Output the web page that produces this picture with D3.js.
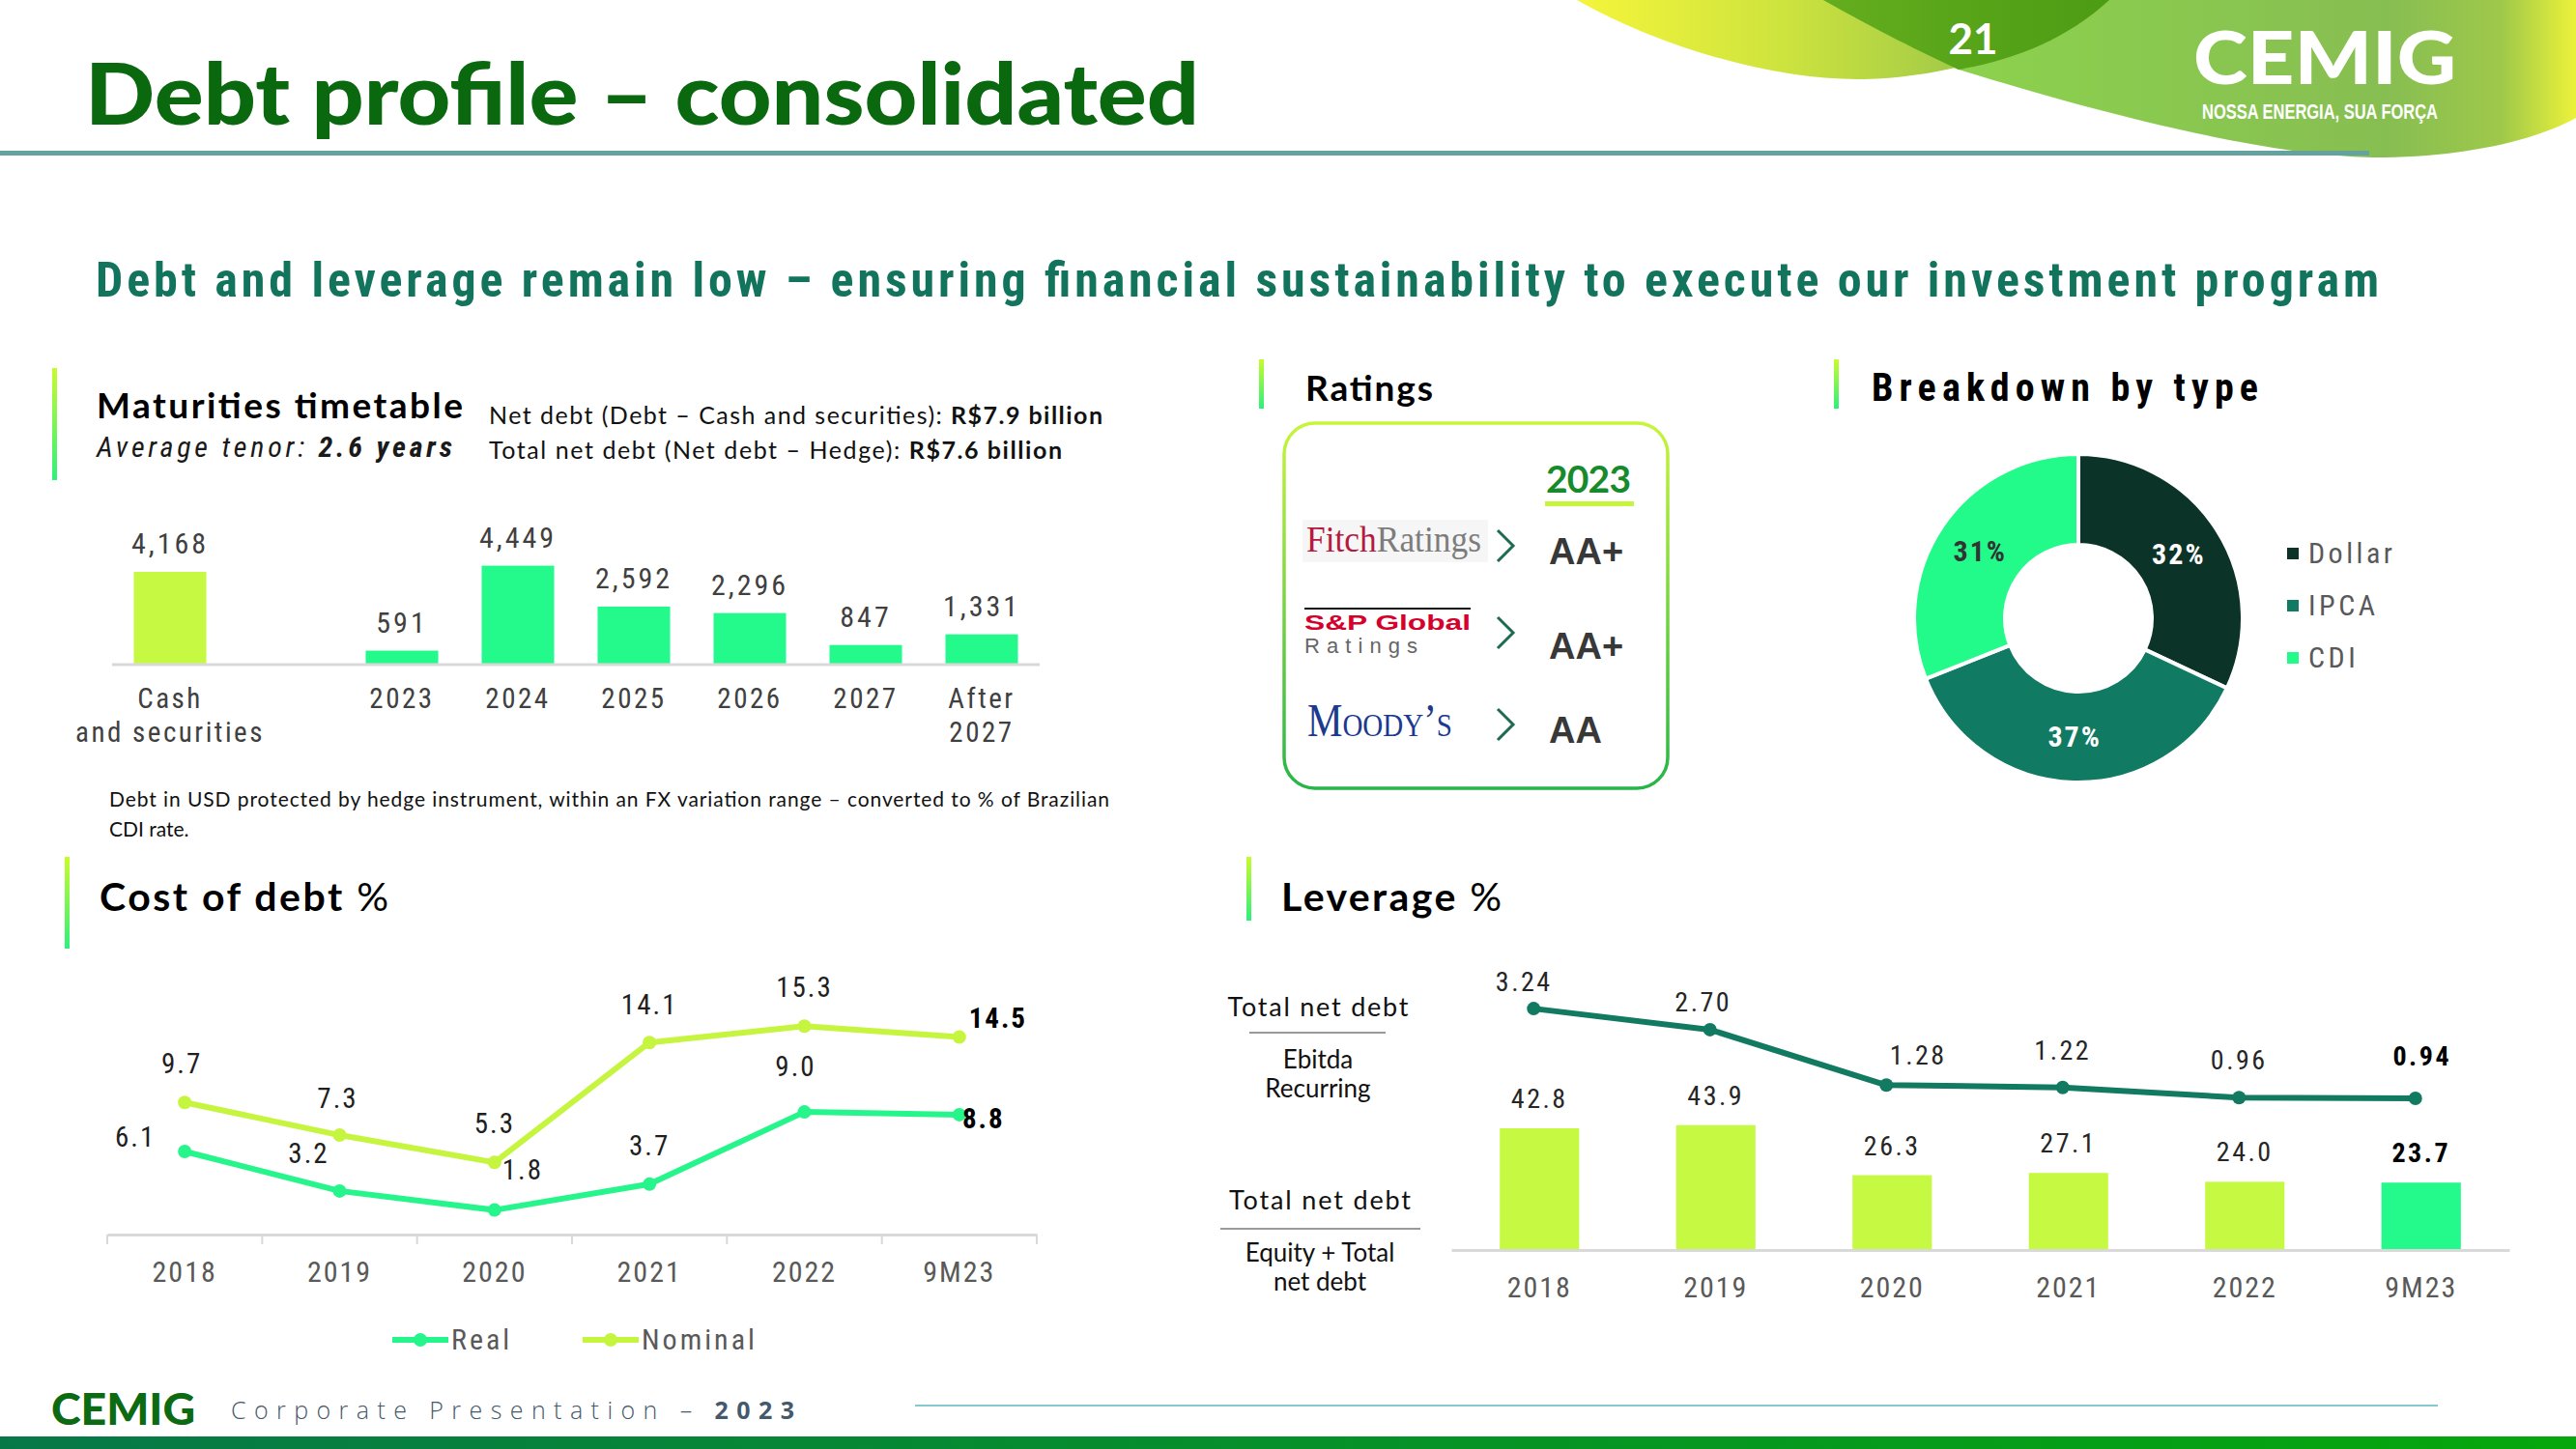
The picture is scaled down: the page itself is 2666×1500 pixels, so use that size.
<!DOCTYPE html>
<html><head><meta charset="utf-8">
<script src="https://cdn.jsdelivr.net/npm/d3@7/dist/d3.min.js"></script>
<style>html,body{margin:0;padding:0;background:#fff;} svg{display:block;}</style>
</head><body>
<script>
// ---------------- DATA ----------------
const maturityCategories = ["Cash and securities", "2023", "2024", "2025", "2026", "2027", "After 2027"];
const maturityLabelLines = [["Cash", "and securities"], ["2023"], ["2024"], ["2025"], ["2026"], ["2027"], ["After", "2027"]];
const maturityValues = [4168, 591, 4449, 2592, 2296, 847, 1331];
const maturityKinds = ["cash", "debt", "debt", "debt", "debt", "debt", "debt"];

const costYears = ["2018", "2019", "2020", "2021", "2022", "9M23"];
const costReal = [6.1, 3.2, 1.8, 3.7, 9.0, 8.8];
const costNominal = [9.7, 7.3, 5.3, 14.1, 15.3, 14.5];

const levYears = ["2018", "2019", "2020", "2021", "2022", "9M23"];
const levNetDebtEbitda = [3.24, 2.70, 1.28, 1.22, 0.96, 0.94];
const levNetDebtEquity = [42.8, 43.9, 26.3, 27.1, 24.0, 23.7];

const debtTypes = ["Dollar", "IPCA", "CDI"];
const debtShares = [32, 37, 31];

const ratingAgencies = ["Fitch Ratings", "S&P Global Ratings", "Moody's"];
const ratingGrades = ["AA+", "AA+", "AA"];
const ratingYear = "2023";

// ---------------- STYLE ----------------
const SANS = "Lato, 'Open Sans', sans-serif";
const NARROW = "'Liberation Sans Narrow', 'Arial Narrow', 'Roboto Condensed', 'Liberation Sans', sans-serif";
const SERIF = "'Liberation Serif', 'DejaVu Serif', serif";
const ARIAL = "'Liberation Sans', Arial, sans-serif";
const LIME = "#c6fa42", SPRING = "#24f98b";

const W = 2666, H = 1500;
const svg = d3.select("body").append("svg").attr("width", W).attr("height", H)
  .attr("viewBox", `0 0 ${W} ${H}`);
svg.append("rect").attr("width", W).attr("height", H).attr("fill", "#fff");
const defs = svg.append("defs");

function lin(id, x1, y1, x2, y2, stops, units) {
  const g = defs.append("linearGradient").attr("id", id)
    .attr("x1", x1).attr("y1", y1).attr("x2", x2).attr("y2", y2);
  if (units) g.attr("gradientUnits", "userSpaceOnUse");
  stops.forEach(s => g.append("stop").attr("offset", s[0]).attr("stop-color", s[1]));
}
lin("accent", 0, 0, 0, 1, [[0, "#c8fb2c"], [1, "#2ef07c"]]);
lin("yellowLens", 1632, 0, 2110, 0, [[0, "#f5f53a"], [0.45, "#cde33e"], [1, "#8fbf4c"]], true);
lin("limeShape", 1887, 0, 2666, 0, [[0, "#8ed84c"], [0.75, "#87be52"], [0.9, "#9ec84a"], [1, "#ecf23a"]], true);
lin("darkBubble", 1887, 0, 2183, 0, [[0, "#64ad1e"], [1, "#4c9c14"]], true);
lin("boxStroke", 0, 0, 0, 1, [[0, "#c8f53a"], [1, "#27b548"]]);
lin("footBand", 0, 0, 1, 0, [[0, "#067848"], [1, "#05a70c"]]);

function T(p, x, y, s, o = {}) {
  const t = p.append("text").attr("x", x).attr("y", y)
    .attr("font-family", o.ff || SANS).attr("font-size", o.fs || 28)
    .attr("fill", o.fill || "#000");
  if (s !== null) t.text(s);
  if (o.fw) t.attr("font-weight", o.fw);
  if (o.style) t.attr("font-style", o.style);
  if (o.anchor) t.attr("text-anchor", o.anchor);
  if (o.ls !== undefined) t.attr("letter-spacing", o.ls);
  if (o.len) t.attr("textLength", o.len).attr("lengthAdjust", o.adj || "spacing");
  return t;
}
function accentBar(x, y1, y2) {
  svg.append("rect").attr("x", x).attr("y", y1).attr("width", 5).attr("height", y2 - y1).attr("fill", "url(#accent)");
}

// ---------------- HEADER ----------------
svg.append("path").attr("d", "M1632,0 C1720,50 1840,84 1930,82 C2010,80 2110,55 2183,0 Z").attr("fill", "url(#yellowLens)");
svg.append("path").attr("d", "M1887,0 C1940,30 1990,55 2027,72 C2150,110 2330,160 2455,163 C2560,163 2630,142 2666,122 L2666,0 Z").attr("fill", "url(#limeShape)");
svg.append("path").attr("d", "M1887,0 C1940,30 1990,55 2027,72 C2085,62 2140,40 2183,0 Z").attr("fill", "url(#darkBubble)");
T(svg, 2042, 56, "21", { fs: 44, fw: 700, fill: "#fff", anchor: "middle", ff: SANS });
T(svg, 2270, 87, "CEMIG", { fs: 76, fw: 900, fill: "#fff", len: 272, adj: "spacingAndGlyphs" });
T(svg, 2279, 123, "NOSSA ENERGIA, SUA FORÇA", { fs: 22, fw: 700, fill: "#fff", ff: ARIAL, len: 244, adj: "spacingAndGlyphs" });

T(svg, 88, 129, "Debt profile – consolidated", { fs: 88, fw: 900, fill: "#0a680f", len: 1153, adj: "spacingAndGlyphs" });
svg.append("rect").attr("x", 0).attr("y", 156).attr("width", 2452).attr("height", 5).attr("fill", "#64a29f");

T(svg, 99, 307, "Debt and leverage remain low – ensuring financial sustainability to execute our investment program",
  { ff: NARROW, fs: 50, fw: 700, fill: "#13745e", len: 2363 });

// ---------------- MATURITIES ----------------
accentBar(54, 381, 497);
T(svg, 100, 433, "Maturities timetable", { fs: 37, fw: 700, len: 379 });
{
  const t = T(svg, 100, 473, null, { ff: NARROW, fs: 30, style: "italic", fill: "#1a1a1a", len: 368 });
  t.append("tspan").text("Average tenor: ");
  t.append("tspan").attr("font-weight", 700).text("2.6 years");
  const t1 = T(svg, 506, 439, null, { fs: 25, fill: "#111", len: 635 });
  t1.append("tspan").text("Net debt (Debt – Cash and securities): ");
  t1.append("tspan").attr("font-weight", 700).text("R$7.9 billion");
  const t2 = T(svg, 506, 475, null, { fs: 25, fill: "#111", len: 593 });
  t2.append("tspan").text("Total net debt (Net debt – Hedge): ");
  t2.append("tspan").attr("font-weight", 700).text("R$7.6 billion");
}
{
  const g = svg.append("g");
  const domain = [maturityCategories[0], " "].concat(maturityCategories.slice(1));
  const x = d3.scaleBand().domain(domain).range([116, 1076]).paddingInner(0.375).paddingOuter(0.1875);
  const y = d3.scaleLinear().domain([0, 4449]).range([687, 585.6]);
  g.selectAll("rect.bar").data(maturityValues).join("rect").attr("class", "bar")
    .attr("x", (d, i) => x(maturityCategories[i])).attr("width", x.bandwidth())
    .attr("y", d => y(d)).attr("height", d => y(0) - y(d))
    .attr("fill", (d, i) => maturityKinds[i] === "cash" ? LIME : SPRING);
  g.append("line").attr("x1", 116).attr("x2", 1076).attr("y1", 688).attr("y2", 688).attr("stroke", "#d9d9d9").attr("stroke-width", 3);
  g.selectAll("text.val").data(maturityValues).join("text").attr("class", "val")
    .attr("x", (d, i) => x(maturityCategories[i]) + x.bandwidth() / 2).attr("y", d => y(d) - 19)
    .attr("text-anchor", "middle").attr("font-family", NARROW).attr("font-size", 30).attr("letter-spacing", 3)
    .attr("fill", "#404040").text(d => d3.format(",")(d));
  maturityCategories.forEach((c, i) => {
    const t = T(g, x(c) + x.bandwidth() / 2, 733, null, { ff: NARROW, fs: 29, ls: 2.5, fill: "#404040", anchor: "middle" });
    maturityLabelLines[i].forEach((ln, j) => t.append("tspan").attr("x", x(c) + x.bandwidth() / 2).attr("dy", j ? 35 : 0).text(ln));
  });
}
T(svg, 113, 835, "Debt in USD protected by hedge instrument, within an FX variation range – converted to % of Brazilian", { fs: 21, fill: "#111", len: 1035 });
T(svg, 113, 866, "CDI rate.", { fs: 21, fill: "#111" });

// ---------------- RATINGS ----------------
accentBar(1303, 372, 423);
T(svg, 1351, 415, "Ratings", { fs: 37, fw: 700, len: 132 });
svg.append("rect").attr("x", 1329).attr("y", 438).attr("width", 397).attr("height", 378).attr("rx", 32)
  .attr("fill", "#fff").attr("stroke", "url(#boxStroke)").attr("stroke-width", 3.5);
T(svg, 1644, 510, ratingYear, { fs: 39, fw: 700, fill: "#178a2c", anchor: "middle", len: 88 });
svg.append("rect").attr("x", 1599).attr("y", 519).attr("width", 92).attr("height", 5).attr("fill", "#c6f53c");
{
  const gradeY = [584, 682, 769];
  const chevY = [565, 655, 750];
  // Fitch
  svg.append("rect").attr("x", 1348).attr("y", 538).attr("width", 192).attr("height", 44).attr("fill", "#f6f6f6");
  const f = T(svg, 1352, 571, null, { ff: SERIF, fs: 38, len: 181, adj: "spacingAndGlyphs" });
  f.append("tspan").attr("fill", "#b51a3e").text("Fitch");
  f.append("tspan").attr("fill", "#7d7d7d").text("Ratings");
  // S&P
  svg.append("line").attr("x1", 1350).attr("x2", 1522).attr("y1", 630).attr("y2", 630).attr("stroke", "#111").attr("stroke-width", 2);
  T(svg, 1350, 652, "S&P Global", { ff: ARIAL, fs: 22, fw: 700, fill: "#d5002c", len: 172, adj: "spacingAndGlyphs" });
  T(svg, 1350, 676, "Ratings", { ff: ARIAL, fs: 22, fill: "#666", len: 117 });
  // Moody's
  T(svg, 1353, 762, "Moody’s", { ff: SERIF, fs: 48, fill: "#1c3a8e", len: 150, adj: "spacingAndGlyphs" })
    .attr("font-variant", "small-caps");
  ratingGrades.forEach((r, i) => {
    svg.append("path").attr("d", `M1550,${chevY[i] - 16} L1566,${chevY[i]} L1550,${chevY[i] + 16}`)
      .attr("fill", "none").attr("stroke", "#1d6b50").attr("stroke-width", 3);
    T(svg, 1603, gradeY[i], r, { ff: ARIAL, fs: 38, fw: 700, fill: "#383838" });
  });
}

// ---------------- BREAKDOWN ----------------
accentBar(1898, 372, 423);
T(svg, 1937, 415, "Breakdown by type", { ff: NARROW, fs: 40, fw: 700, len: 400 });
{
  const g = svg.append("g").attr("transform", "translate(2151,640)");
  const colors = ["#0b3328", "#117a63", "#22fb8a"];
  const pie = d3.pie().sort(null).value(d => d)(debtShares);
  const arc = d3.arc().innerRadius(76).outerRadius(170);
  g.selectAll("path").data(pie).join("path").attr("d", arc)
    .attr("fill", (d, i) => colors[i]).attr("stroke", "#fff").attr("stroke-width", 4);
  const lab = d3.arc().innerRadius(123).outerRadius(123);
  g.selectAll("text").data(pie).join("text")
    .attr("x", d => lab.centroid(d)[0]).attr("y", d => lab.centroid(d)[1] + 10)
    .attr("text-anchor", "middle").attr("font-family", NARROW).attr("font-size", 30).attr("font-weight", 700)
    .attr("letter-spacing", 2)
    .attr("fill", (d, i) => i === 2 ? "#333" : "#fff").text(d => d.data + "%");
  debtTypes.forEach((t, i) => {
    svg.append("rect").attr("x", 2367).attr("y", 567 + i * 54).attr("width", 12).attr("height", 12).attr("fill", colors[i]);
    T(svg, 2389, 583 + i * 54, t, { ff: NARROW, fs: 30, ls: 3.5, fill: "#595959" });
  });
}

// ---------------- COST OF DEBT ----------------
accentBar(67, 887, 982);
{
  const t = T(svg, 103, 943, null, { fs: 41, len: 299 });
  t.append("tspan").attr("font-weight", 700).text("Cost of debt ");
  t.append("tspan").text("%");
}
{
  const g = svg.append("g");
  const x = d3.scaleBand().domain(costYears).range([111, 1073]);
  const y = d3.scaleLinear().domain([0, 18]).range([1278, 1024.2]);
  const cx = d => x(d) + x.bandwidth() / 2;
  const ax = g.append("g").attr("transform", "translate(0,1278)")
    .call(d3.axisBottom(x).tickSize(0).tickPadding(28));
  ax.select(".domain").attr("stroke", "#d9d9d9").attr("stroke-width", 3);
  ax.selectAll("text").attr("font-family", NARROW).attr("font-size", 30).attr("letter-spacing", 2).attr("fill", "#595959");
  x.domain().concat([null]).forEach(d => {
    const xx = d === null ? 1073 : x(d);
    g.append("line").attr("x1", xx).attr("x2", xx).attr("y1", 1278).attr("y2", 1288).attr("stroke", "#d9d9d9").attr("stroke-width", 2);
  });
  const series = [
    { vals: costNominal, color: "#c6f53f", off: [[-3, -30], [-2, -28], [0, -30], [0, -29], [0, -30], [40, -10]] },
    { vals: costReal, color: "#25f58b", off: [[-51, -5], [-32, -29], [29, -32], [0, -30], [-9, -37], [25, 14]] }
  ];
  const line = d3.line().x((d, i) => cx(costYears[i])).y(d => y(d));
  series.forEach(s => {
    g.append("path").attr("d", line(s.vals)).attr("fill", "none").attr("stroke", s.color).attr("stroke-width", 6).attr("stroke-linejoin", "round");
    g.selectAll(null).data(s.vals).join("circle").attr("cx", (d, i) => cx(costYears[i])).attr("cy", d => y(d)).attr("r", 7).attr("fill", s.color);
  });
  series.forEach(s => {
    g.selectAll(null).data(s.vals).join("text")
      .attr("x", (d, i) => cx(costYears[i]) + s.off[i][0]).attr("y", (d, i) => y(d) + s.off[i][1])
      .attr("text-anchor", "middle").attr("font-family", NARROW).attr("font-size", 29).attr("letter-spacing", 2)
      .attr("font-weight", (d, i) => i === costYears.length - 1 ? 700 : 400)
      .attr("fill", (d, i) => i === costYears.length - 1 ? "#000" : "#1f1f1f")
      .text(d => d.toFixed(1));
  });
  [["Real", "#25f58b", 406], ["Nominal", "#c6f53f", 603]].forEach(([n, c, lx]) => {
    g.append("line").attr("x1", lx).attr("x2", lx + 58).attr("y1", 1387).attr("y2", 1387).attr("stroke", c).attr("stroke-width", 6);
    g.append("circle").attr("cx", lx + 29).attr("cy", 1387).attr("r", 7).attr("fill", c);
    T(g, lx + 61, 1397, n, { ff: NARROW, fs: 30, ls: 3, fill: "#595959" });
  });
}

// ---------------- LEVERAGE ----------------
accentBar(1290, 887, 953);
{
  const t = T(svg, 1326, 943, null, { fs: 41, len: 228 });
  t.append("tspan").attr("font-weight", 700).text("Leverage ");
  t.append("tspan").text("%");
}
{
  const g = svg.append("g");
  T(g, 1364, 1052, "Total net debt", { fs: 27, anchor: "middle", fill: "#111", len: 187 });
  g.append("line").attr("x1", 1293).attr("x2", 1434).attr("y1", 1069).attr("y2", 1069).attr("stroke", "#777").attr("stroke-width", 1.5);
  T(g, 1364, 1106, "Ebitda", { fs: 26, anchor: "middle", fill: "#111" });
  T(g, 1364, 1136, "Recurring", { fs: 26, anchor: "middle", fill: "#111" });
  T(g, 1366, 1252, "Total net debt", { fs: 27, anchor: "middle", fill: "#111", len: 188 });
  g.append("line").attr("x1", 1263).attr("x2", 1470).attr("y1", 1272).attr("y2", 1272).attr("stroke", "#777").attr("stroke-width", 1.5);
  T(g, 1366, 1306, "Equity + Total", { fs: 26, anchor: "middle", fill: "#111" });
  T(g, 1366, 1336, "net debt", { fs: 26, anchor: "middle", fill: "#111" });

  const x = d3.scaleBand().domain(levYears).range([1502, 2597]).paddingInner(0.55).paddingOuter(0.275);
  const yb = d3.scaleLinear().domain([0, 50]).range([1294, 1294 - 147.2]);
  const yl = d3.scaleLinear().domain([0, 4]).range([1175, 1175 - 161.6]);
  const cx = d => x(d) + x.bandwidth() / 2;
  const last = levYears.length - 1;
  g.selectAll("rect.bar").data(levNetDebtEquity).join("rect").attr("class", "bar")
    .attr("x", (d, i) => x(levYears[i])).attr("width", x.bandwidth())
    .attr("y", d => yb(d)).attr("height", d => yb(0) - yb(d))
    .attr("fill", (d, i) => i === last ? SPRING : LIME);
  const ax = g.append("g").attr("transform", "translate(0,1294)")
    .call(d3.axisBottom(x).tickSize(0).tickPadding(28));
  ax.select(".domain").attr("stroke", "#d9d9d9").attr("stroke-width", 3);
  ax.selectAll("text").attr("font-family", NARROW).attr("font-size", 30).attr("letter-spacing", 2).attr("fill", "#595959");
  g.selectAll("text.bv").data(levNetDebtEquity).join("text").attr("class", "bv")
    .attr("x", (d, i) => cx(levYears[i])).attr("y", d => yb(d) - 21)
    .attr("text-anchor", "middle").attr("font-family", NARROW).attr("font-size", 28).attr("letter-spacing", 2.5)
    .attr("font-weight", (d, i) => i === last ? 700 : 400)
    .attr("fill", (d, i) => i === last ? "#000" : "#262626").text(d => d.toFixed(1));
  const lineOff = [[-10, -18], [-7, -19], [33, -21], [0, -29], [0, -29], [7, -34]];
  const line = d3.line().x((d, i) => cx(levYears[i]) - 6).y(d => yl(d));
  g.append("path").attr("d", line(levNetDebtEbitda)).attr("fill", "none").attr("stroke", "#137a62").attr("stroke-width", 6).attr("stroke-linejoin", "round");
  g.selectAll("circle").data(levNetDebtEbitda).join("circle").attr("cx", (d, i) => cx(levYears[i]) - 6).attr("cy", d => yl(d)).attr("r", 7).attr("fill", "#137a62");
  g.selectAll("text.lv").data(levNetDebtEbitda).join("text").attr("class", "lv")
    .attr("x", (d, i) => cx(levYears[i]) - 6 + lineOff[i][0]).attr("y", (d, i) => yl(d) + lineOff[i][1])
    .attr("text-anchor", "middle").attr("font-family", NARROW).attr("font-size", 28).attr("letter-spacing", 2.5)
    .attr("font-weight", (d, i) => i === last ? 700 : 400)
    .attr("fill", (d, i) => i === last ? "#000" : "#262626").text(d => d.toFixed(2));
}

// ---------------- FOOTER ----------------
T(svg, 53, 1475, "CEMIG", { fs: 46, fw: 900, fill: "#0b6a12", len: 149, adj: "spacingAndGlyphs" });
{
  const t = T(svg, 239, 1469, null, { ff: "'Open Sans', Lato, sans-serif", fs: 25, fill: "#44596b", len: 583 });
  t.append("tspan").attr("font-weight", 300).text("Corporate Presentation – ");
  t.append("tspan").attr("font-weight", 700).text("2023");
}
svg.append("rect").attr("x", 947).attr("y", 1454).attr("width", 1576).attr("height", 2).attr("fill", "#86c8cf");
svg.append("rect").attr("x", 0).attr("y", 1487).attr("width", W).attr("height", 13).attr("fill", "url(#footBand)");
</script>
</body></html>
